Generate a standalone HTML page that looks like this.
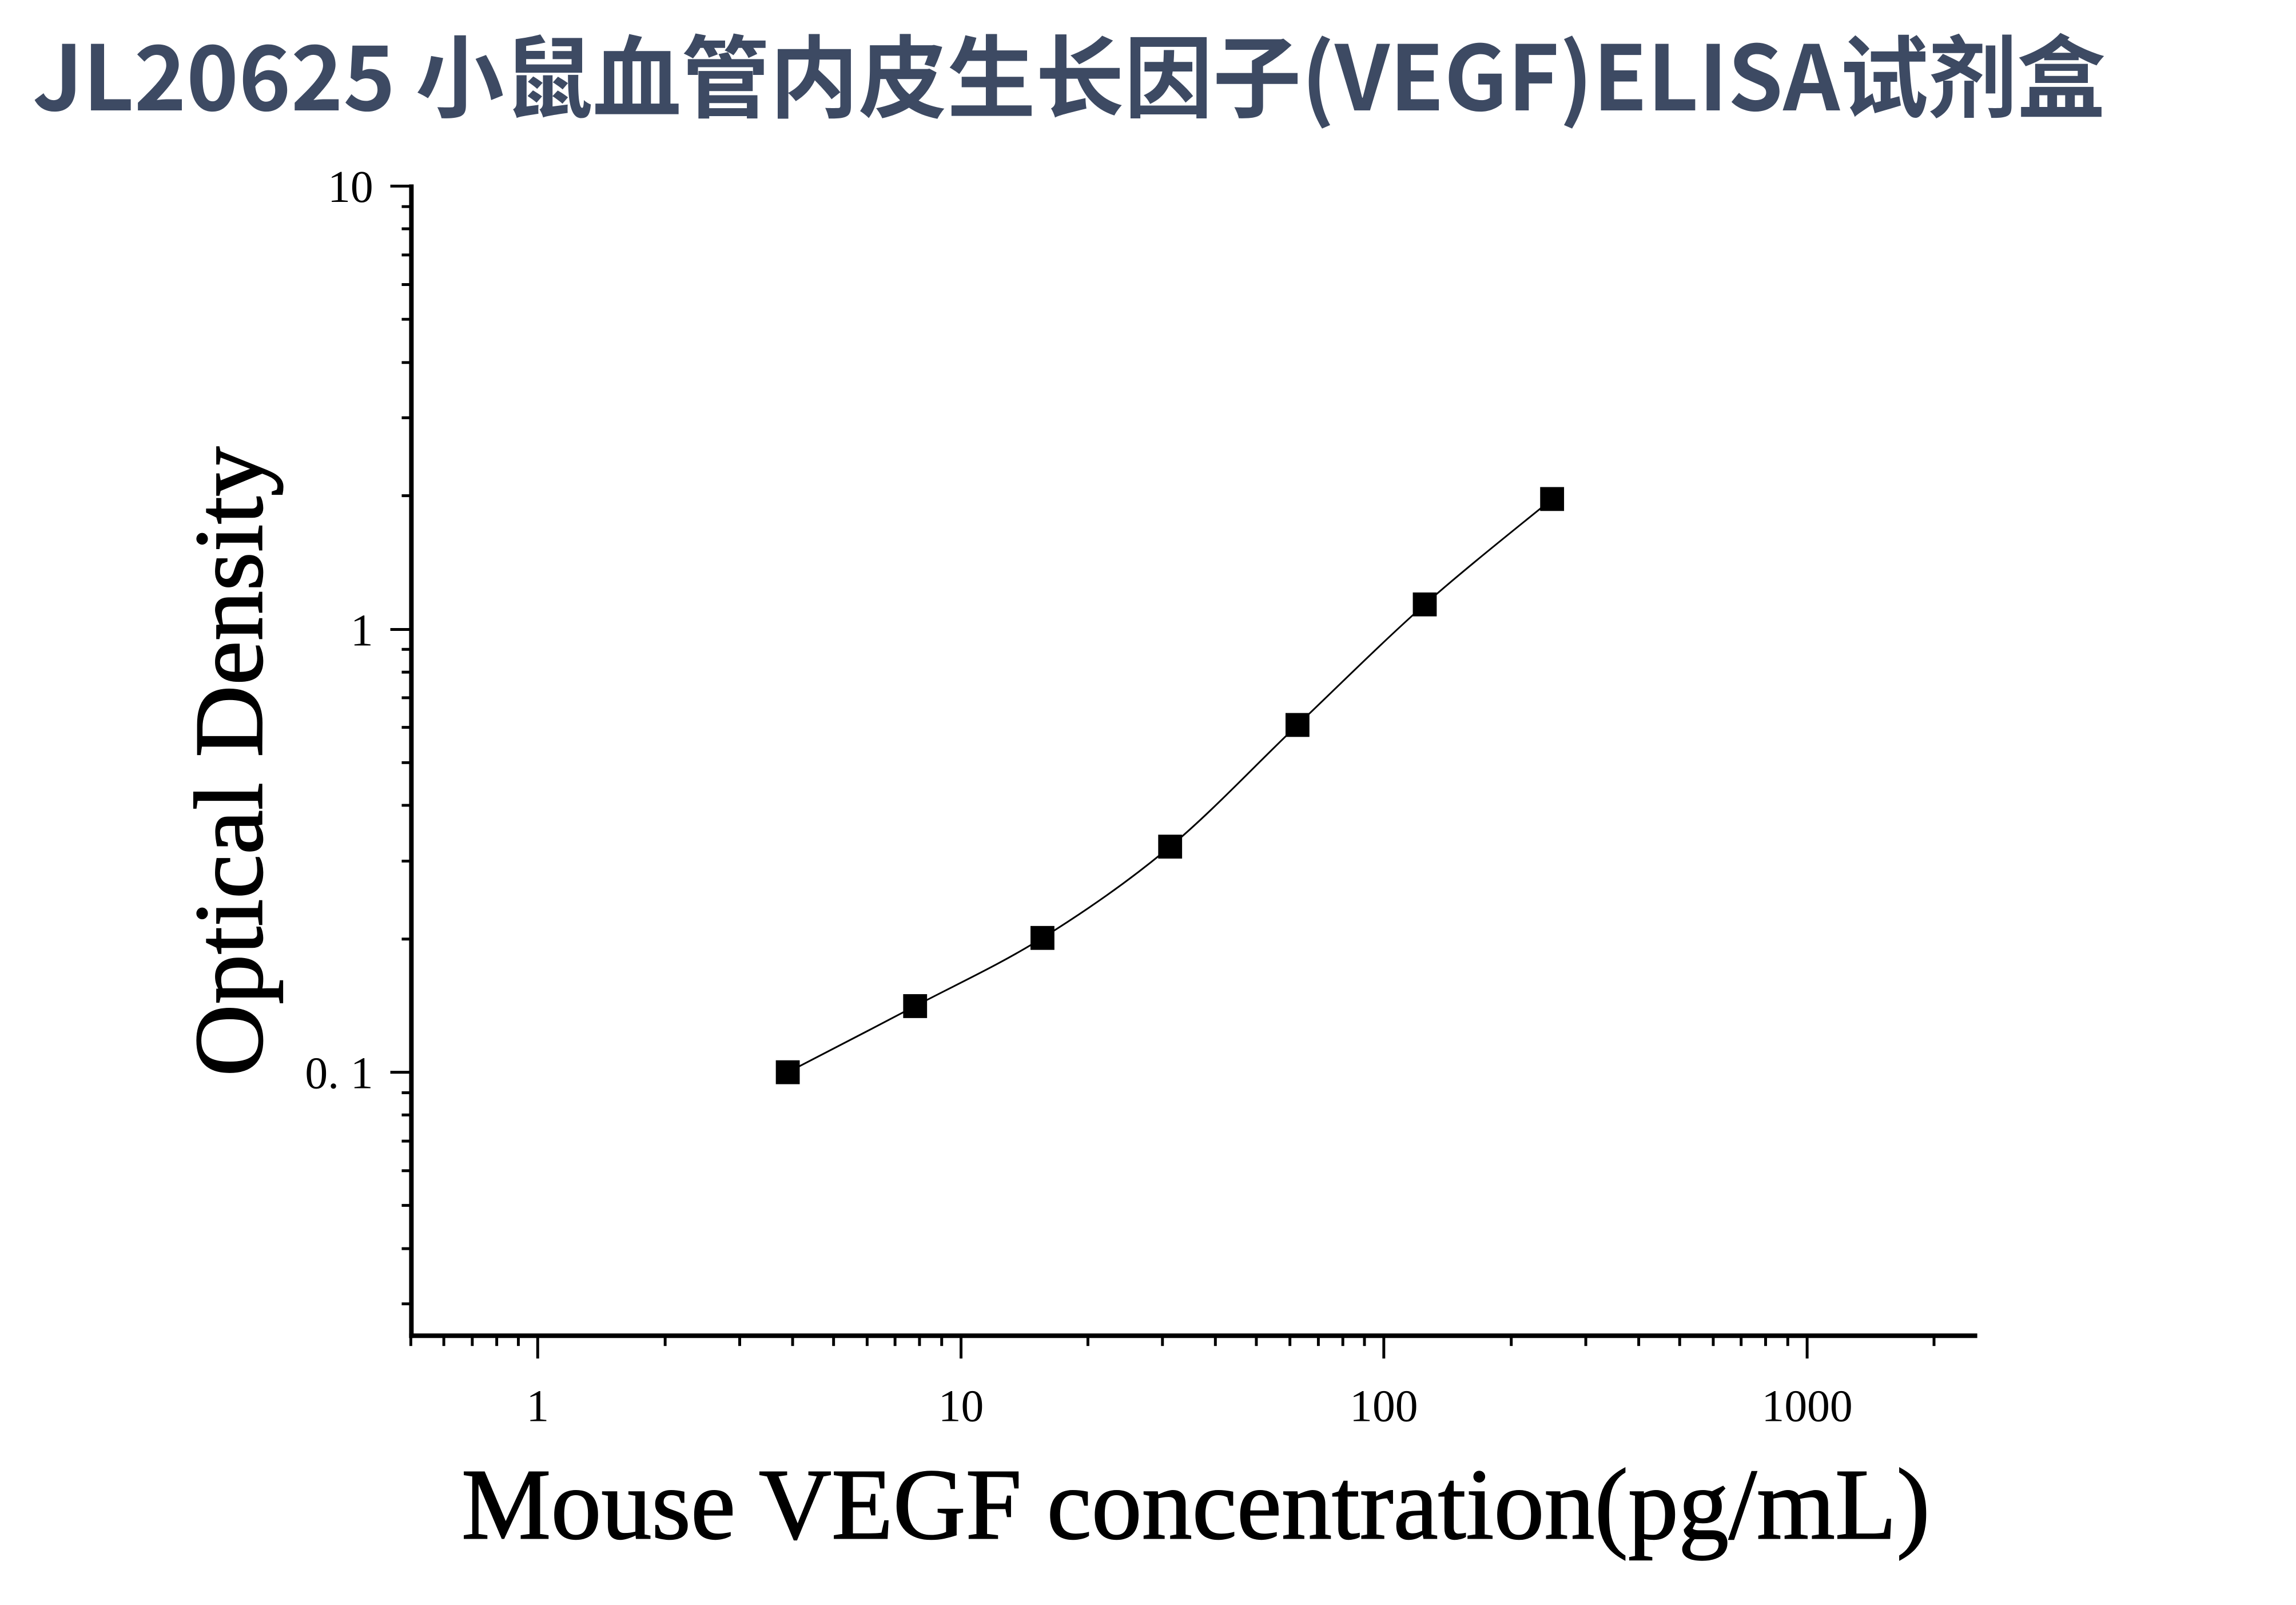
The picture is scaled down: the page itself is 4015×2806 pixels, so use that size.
<!DOCTYPE html>
<html><head><meta charset="utf-8"><style>html,body{margin:0;padding:0;background:#fff}svg{display:block}</style></head>
<body>
<svg width="4015" height="2806" viewBox="0 0 4015 2806" xmlns="http://www.w3.org/2000/svg">
<rect width="4015" height="2806" fill="#fff"/>
<text x="57" y="193" font-family="Noto Sans CJK SC, sans-serif" font-weight="bold" font-size="157" fill="#3d4a63" textLength="3625" lengthAdjust="spacingAndGlyphs">JL20625 小鼠血管内皮生长因子(VEGF)ELISA试剂盒</text>
<g transform="scale(0.995)">
<g stroke="#000" fill="none">
<line x1="723" y1="324" x2="723" y2="2351" stroke-width="8"/>
<line x1="719" y1="2347" x2="3475" y2="2347" stroke-width="8"/>
<g stroke-width="5">
<line x1="722" y1="2347" x2="722" y2="2365"/>
<line x1="780" y1="2347" x2="780" y2="2365"/>
<line x1="830" y1="2347" x2="830" y2="2365"/>
<line x1="873" y1="2347" x2="873" y2="2365"/>
<line x1="911" y1="2347" x2="911" y2="2365"/>
<line x1="945" y1="2347" x2="945" y2="2387"/>
<line x1="1169" y1="2347" x2="1169" y2="2365"/>
<line x1="1300" y1="2347" x2="1300" y2="2365"/>
<line x1="1393" y1="2347" x2="1393" y2="2365"/>
<line x1="1465" y1="2347" x2="1465" y2="2365"/>
<line x1="1524" y1="2347" x2="1524" y2="2365"/>
<line x1="1573" y1="2347" x2="1573" y2="2365"/>
<line x1="1616" y1="2347" x2="1616" y2="2365"/>
<line x1="1655" y1="2347" x2="1655" y2="2365"/>
<line x1="1689" y1="2347" x2="1689" y2="2387"/>
<line x1="1912" y1="2347" x2="1912" y2="2365"/>
<line x1="2043" y1="2347" x2="2043" y2="2365"/>
<line x1="2136" y1="2347" x2="2136" y2="2365"/>
<line x1="2208" y1="2347" x2="2208" y2="2365"/>
<line x1="2267" y1="2347" x2="2267" y2="2365"/>
<line x1="2317" y1="2347" x2="2317" y2="2365"/>
<line x1="2360" y1="2347" x2="2360" y2="2365"/>
<line x1="2398" y1="2347" x2="2398" y2="2365"/>
<line x1="2432" y1="2347" x2="2432" y2="2387"/>
<line x1="2656" y1="2347" x2="2656" y2="2365"/>
<line x1="2787" y1="2347" x2="2787" y2="2365"/>
<line x1="2880" y1="2347" x2="2880" y2="2365"/>
<line x1="2952" y1="2347" x2="2952" y2="2365"/>
<line x1="3011" y1="2347" x2="3011" y2="2365"/>
<line x1="3060" y1="2347" x2="3060" y2="2365"/>
<line x1="3103" y1="2347" x2="3103" y2="2365"/>
<line x1="3142" y1="2347" x2="3142" y2="2365"/>
<line x1="3176" y1="2347" x2="3176" y2="2387"/>
<line x1="3399" y1="2347" x2="3399" y2="2365"/>
<line x1="723" y1="327" x2="686" y2="327"/>
<line x1="723" y1="363" x2="706" y2="363"/>
<line x1="723" y1="402" x2="706" y2="402"/>
<line x1="723" y1="448" x2="706" y2="448"/>
<line x1="723" y1="500" x2="706" y2="500"/>
<line x1="723" y1="561" x2="706" y2="561"/>
<line x1="723" y1="637" x2="706" y2="637"/>
<line x1="723" y1="734" x2="706" y2="734"/>
<line x1="723" y1="871" x2="706" y2="871"/>
<line x1="723" y1="1106" x2="686" y2="1106"/>
<line x1="723" y1="1141" x2="706" y2="1141"/>
<line x1="723" y1="1181" x2="706" y2="1181"/>
<line x1="723" y1="1226" x2="706" y2="1226"/>
<line x1="723" y1="1278" x2="706" y2="1278"/>
<line x1="723" y1="1340" x2="706" y2="1340"/>
<line x1="723" y1="1415" x2="706" y2="1415"/>
<line x1="723" y1="1513" x2="706" y2="1513"/>
<line x1="723" y1="1650" x2="706" y2="1650"/>
<line x1="723" y1="1884" x2="686" y2="1884"/>
<line x1="723" y1="1920" x2="706" y2="1920"/>
<line x1="723" y1="1959" x2="706" y2="1959"/>
<line x1="723" y1="2005" x2="706" y2="2005"/>
<line x1="723" y1="2057" x2="706" y2="2057"/>
<line x1="723" y1="2118" x2="706" y2="2118"/>
<line x1="723" y1="2194" x2="706" y2="2194"/>
<line x1="723" y1="2291" x2="706" y2="2291"/>
</g>
</g>
<g font-family="Liberation Serif, serif" font-size="80" fill="#000">
<text x="945" y="2497" text-anchor="middle">1</text>
<text x="1689" y="2497" text-anchor="middle">10</text>
<text x="2432" y="2497" text-anchor="middle">100</text>
<text x="3176" y="2497" text-anchor="middle">1000</text>
<text x="656" y="355" text-anchor="end">10</text>
<text x="656" y="1134" text-anchor="end">1</text>
<text x="656" y="1912" text-anchor="end">0. 1</text>
</g>
<path fill="none" stroke="#000" stroke-width="3" d="M1384.5,1884 C1421.8,1864.6 1533.7,1807.1 1608.3,1767.8 C1682.9,1728.5 1757.4,1694.7 1832.1,1648 C1906.8,1601.3 1981.8,1550 2056.5,1487.6 C2131.2,1425.2 2205.7,1344.7 2280.3,1273.8 C2354.9,1202.9 2429.4,1128.2 2504,1062 C2578.6,995.8 2690.5,907.7 2727.8,876.8"/>
<g fill="#000">
<rect x="1363.5" y="1863" width="42" height="42"/>
<rect x="1587.3" y="1746.8" width="42" height="42"/>
<rect x="1811.1" y="1627" width="42" height="42"/>
<rect x="2035.5" y="1466.6" width="42" height="42"/>
<rect x="2259.3" y="1252.8" width="42" height="42"/>
<rect x="2483" y="1041" width="42" height="42"/>
<rect x="2706.8" y="855.8" width="42" height="42"/>
</g>
<text transform="translate(460,1338) rotate(-90)" text-anchor="middle" font-family="Liberation Serif, serif" font-size="172" fill="#000" stroke="#000" stroke-width="2" textLength="1107" lengthAdjust="spacingAndGlyphs">Optical Density</text>
<text x="811" y="2703" font-family="Liberation Serif, serif" font-size="178" fill="#000" stroke="#000" stroke-width="2" textLength="2581" lengthAdjust="spacingAndGlyphs">Mouse VEGF concentration(pg/mL)</text>
</g>
</svg>
</body></html>
